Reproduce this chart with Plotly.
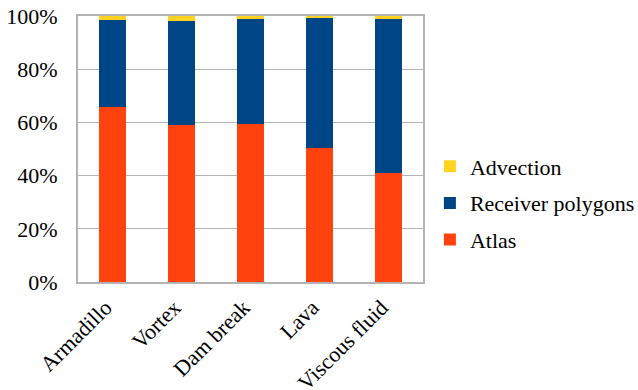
import plotly.graph_objects as go

categories = ["Armadillo", "Vortex", "Dam break", "Lava", "Viscous fluid"]
atlas = [65.8, 58.9, 59.4, 50.5, 40.9]
receiver_polygons = [32.7, 39.1, 39.6, 49.0, 58.0]
advection = [1.5, 2.0, 1.0, 0.5, 1.1]
y_ticks = [0, 20, 40, 60, 80, 100]
y_tick_labels = ["0%", "20%", "40%", "60%", "80%", "100%"]

font_family = "'Liberation Serif', 'Times New Roman', serif"
font_size = 22

fig = go.Figure()
fig.add_bar(name="Atlas", x=categories, y=atlas, marker_color="#FF420E",
            marker_line_width=0, legendgroup="atlas", legendrank=3)
fig.add_bar(name="Receiver polygons", x=categories, y=receiver_polygons,
            marker_color="#004586", marker_line_width=0, legendgroup="receiver",
            legendrank=2)
fig.add_bar(name="Advection", x=categories, y=advection, marker_color="#FFD320",
            marker_line_width=0, legendgroup="advection", legendrank=1)

fig.update_layout(
    width=638, height=390, autosize=False,
    barmode="stack", bargap=0.6,
    plot_bgcolor="white", paper_bgcolor="white",
    margin=dict(l=78, r=215, t=16, b=108, autoexpand=False),
    font=dict(family=font_family, size=font_size, color="black"),
    legend=dict(traceorder="grouped", x=1.02, y=0.297,
                yanchor="middle", xanchor="left",
                font=dict(family=font_family, size=font_size),
                itemwidth=30, tracegroupgap=5, bgcolor="rgba(0,0,0,0)"),
    showlegend=True,
)
fig.update_yaxes(range=[0, 100], tickvals=y_ticks, ticktext=y_tick_labels,
                 tickfont=dict(family=font_family, size=font_size),
                 showgrid=True, gridcolor="#b3b3b3", gridwidth=1.3,
                 showline=True, linecolor="#b3b3b3", linewidth=2, mirror=True,
                 ticks="", ticklabelstandoff=14, zeroline=False,
                 automargin=False)
fig.update_xaxes(tickangle=-45, tickfont=dict(family=font_family, size=font_size),
                 showline=True, linecolor="#b3b3b3",
                 linewidth=2, mirror=True, ticks="", ticklabelstandoff=2,
                 ticklabelshift=-7, automargin=False)

fig.write_html("out.html")
